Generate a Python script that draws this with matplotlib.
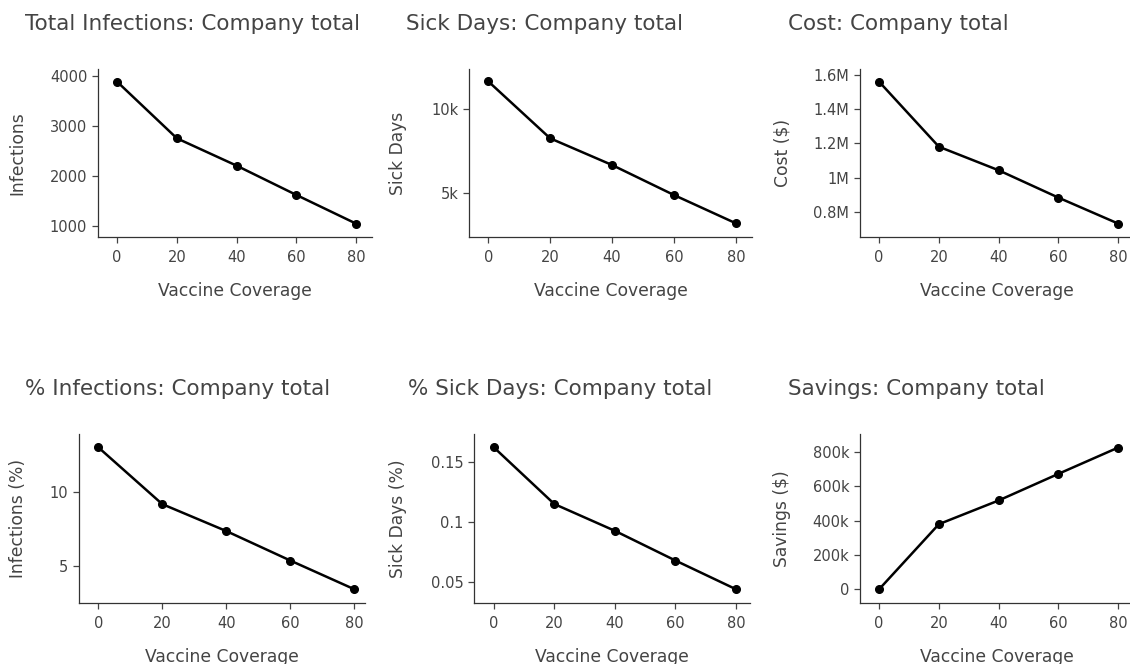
import numpy as np
import matplotlib.pyplot as plt
from matplotlib.ticker import FixedLocator, FixedFormatter

plt.rcParams['font.family'] = ['DejaVu Sans']

coverage = [0, 20, 40, 60, 80]

infections = [3880, 2750, 2204, 1619, 1046]
sick_days = [11655, 8250, 6655, 4862, 3172]
cost = [1559000, 1181000, 1044000, 885000, 734000]
pct_infections = [12.99, 9.17, 7.36, 5.38, 3.45]
pct_sick_days = [0.162, 0.1148, 0.0925, 0.0678, 0.0439]
savings = [0, 379000, 517000, 672000, 825000]

titles = ["Total Infections: Company total", "Sick Days: Company total",
          "Cost: Company total", "% Infections: Company total",
          "% Sick Days: Company total", "Savings: Company total"]
ylabels = ["Infections", "Sick Days", "Cost ($)",
           "Infections (%)", "Sick Days (%)", "Savings ($)"]
yticks = [[1000, 2000, 3000, 4000],
          [5000, 10000],
          [0.8e6, 1.0e6, 1.2e6, 1.4e6, 1.6e6],
          [5, 10],
          [0.05, 0.1, 0.15],
          [0, 200e3, 400e3, 600e3, 800e3]]
yticklabels = [["1000", "2000", "3000", "4000"],
               ["5k", "10k"],
               ["0.8M", "1M", "1.2M", "1.4M", "1.6M"],
               ["5", "10"],
               ["0.05", "0.1", "0.15"],
               ["0", "200k", "400k", "600k", "800k"]]
series = [infections, sick_days, cost, pct_infections, pct_sick_days, savings]

W, H = 1130, 664
TXT = "#444444"

# layout in pixels: (left, right, top, bottom), x-limits, y-limits
rects = [(98, 372, 69, 237), (469, 752, 69, 237), (860, 1134, 69, 237),
         (79, 365, 434, 603), (474, 750, 434, 603), (860, 1134, 434, 603)]
xlims = [(-6.4, 85.3), (-6.2, 85.2), (-6.4, 85.3),
         (-6.0, 83.3), (-6.5, 84.6), (-6.4, 85.3)]
ylims = [(780, 4134), (2354, 12390), (0.656e6, 1.633e6),
         (2.53, 13.88), (0.0325, 0.173), (-80e3, 904e3)]
title_pos = [(25, 29.5), (406, 29.5), (788, 29.5),
             (25, 395), (408, 395), (788, 395)]
ylabel_x = [17, 398, 782, 18, 398, 782]
xlabel_y = [291, 291, 291, 657, 657, 657]

fig = plt.figure(figsize=(W / 100, H / 100), dpi=100)

for i in range(6):
    l, r, t, b = rects[i]
    ax = fig.add_axes([l / W, 1 - b / H, (r - l) / W, (b - t) / H])
    ax.plot(coverage, series[i], color="black", lw=1.8,
            marker="o", ms=5.5, clip_on=False)
    ax.set_xlim(xlims[i])
    ax.set_ylim(ylims[i])
    ax.set_xticks(coverage)
    ax.yaxis.set_major_locator(FixedLocator(yticks[i]))
    ax.yaxis.set_major_formatter(FixedFormatter(yticklabels[i]))
    for side in ["top", "right"]:
        ax.spines[side].set_visible(False)
    for side in ["left", "bottom"]:
        ax.spines[side].set_color("#333333")
        ax.spines[side].set_linewidth(0.9)
    ax.tick_params(axis="both", direction="out", length=4.3, width=0.9,
                   color=TXT, labelcolor=TXT, labelsize=10.5)
    ax.tick_params(axis="y", pad=3.4)
    ax.tick_params(axis="x", pad=5)

    tx, ty = title_pos[i]
    fig.text(tx / W, 1 - ty / H, titles[i], fontsize=15.5, color=TXT,
             ha="left", va="baseline")
    fig.text(ylabel_x[i] / W, 1 - ((t + b) / 2) / H, ylabels[i],
             fontsize=12.3, color=TXT, rotation=90, ha="center", va="center")
    fig.text(((l + r) / 2) / W, 1 - xlabel_y[i] / H, "Vaccine Coverage",
             fontsize=12.3, color=TXT, ha="center", va="center")

fig.savefig("out.png", dpi=100)
